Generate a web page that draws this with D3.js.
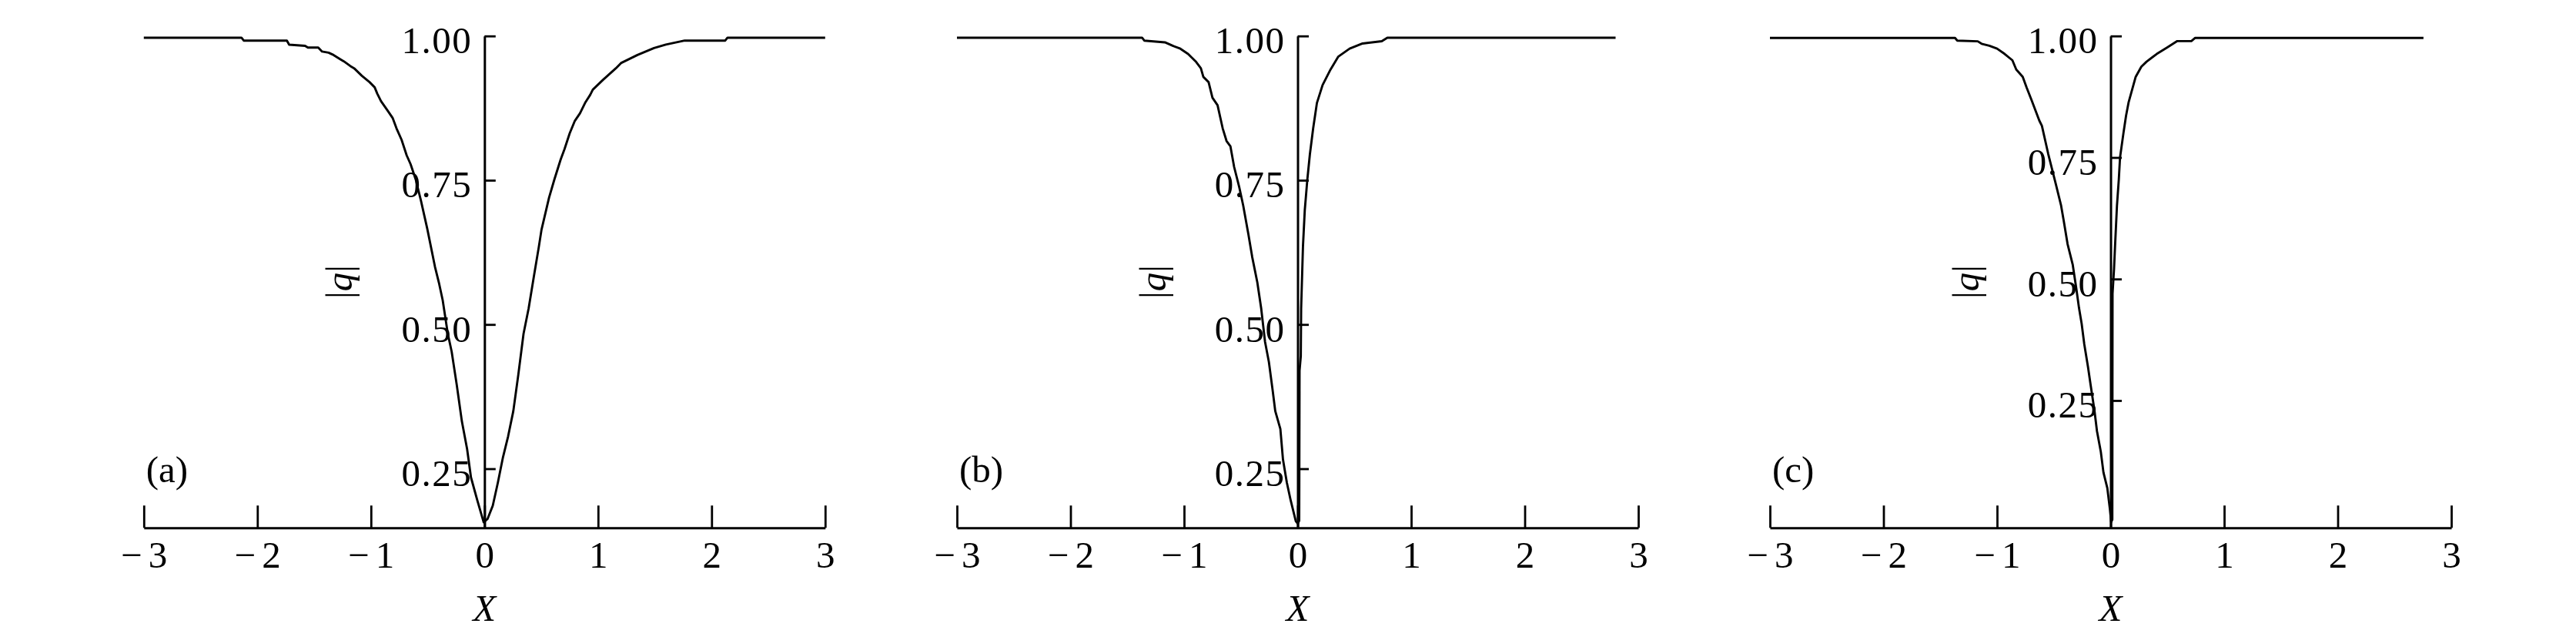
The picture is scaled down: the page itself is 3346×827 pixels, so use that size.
<!DOCTYPE html>
<html><head><meta charset="utf-8">
<script src="https://cdn.jsdelivr.net/npm/d3@7"></script>
<style>html,body{margin:0;padding:0;background:#fff;} svg{display:block;background:#fff;}</style>
</head><body><svg id="chart" width="3346" height="827"></svg>
<script>
// ---- data ----
const xTicks = [-3, -2, -1, 0, 1, 2, 3];
const yTicks = [0.25, 0.5, 0.75, 1.0];
const panelLabels = ["(a)", "(b)", "(c)"];
const yMins = [0.1475, 0.1475, -0.012];
const xLabel = "X";

const xA = [-3.0,-2.14,-2.12,-1.74,-1.72,-1.58,-1.555,-1.464,-1.43,-1.373,-1.329,-1.272,-1.238,-1.182,-1.148,-1.08,-1.012,-0.967,-0.944,-0.911,-0.854,-0.809,-0.775,-0.73,-0.685,-0.651,-0.605,-0.56,-0.504,-0.436,-0.402,-0.368,-0.323,-0.289,-0.244,-0.199,-0.153,-0.119,-0.063,-0.007,0.027,0.073,0.118,0.163,0.208,0.254,0.298,0.344,0.389,0.434,0.479,0.502,0.569,0.615,0.671,0.705,0.75,0.796,0.841,0.886,0.931,0.954,1.044,1.157,1.202,1.347,1.493,1.597,1.763,2.12,2.14,3.0];
const yA = [0.997,0.997,0.992,0.992,0.985,0.983,0.98,0.98,0.973,0.971,0.967,0.96,0.956,0.948,0.944,0.931,0.92,0.911,0.9,0.887,0.871,0.858,0.84,0.82,0.793,0.778,0.751,0.715,0.666,0.6,0.573,0.542,0.484,0.453,0.395,0.332,0.284,0.235,0.195,0.157,0.163,0.186,0.226,0.27,0.306,0.35,0.413,0.484,0.528,0.582,0.635,0.664,0.72,0.751,0.786,0.804,0.831,0.853,0.866,0.884,0.898,0.907,0.924,0.944,0.953,0.967,0.979,0.985,0.992,0.992,0.997,0.997];

const xB = [-3.0,-1.37,-1.35,-1.169,-1.10,-1.033,-0.965,-0.898,-0.852,-0.83,-0.784,-0.75,-0.705,-0.66,-0.626,-0.592,-0.559,-0.513,-0.479,-0.434,-0.4,-0.355,-0.321,-0.287,-0.253,-0.22,-0.197,-0.152,-0.129,-0.095,-0.061,-0.016,0.0,0.014,0.017,0.028,0.031,0.047,0.063,0.085,0.108,0.137,0.17,0.22,0.29,0.357,0.458,0.572,0.741,0.79,2.80];
const yB = [0.997,0.997,0.992,0.989,0.983,0.978,0.969,0.956,0.944,0.929,0.92,0.893,0.88,0.84,0.818,0.809,0.773,0.737,0.706,0.657,0.617,0.573,0.528,0.47,0.435,0.386,0.35,0.319,0.266,0.226,0.195,0.159,0.155,0.16,0.42,0.445,0.528,0.635,0.698,0.75,0.795,0.84,0.884,0.915,0.942,0.964,0.978,0.987,0.991,0.997,0.997];

const xC = [-3.0,-1.37,-1.35,-1.17,-1.136,-1.068,-1.0,-0.933,-0.865,-0.831,-0.774,-0.74,-0.696,-0.662,-0.628,-0.605,-0.549,-0.481,-0.436,-0.413,-0.379,-0.334,-0.3,-0.278,-0.255,-0.232,-0.199,-0.176,-0.142,-0.12,-0.086,-0.063,-0.029,-0.007,0.005,0.015,0.017,0.03,0.039,0.056,0.072,0.083,0.113,0.136,0.158,0.221,0.271,0.316,0.406,0.497,0.587,0.711,0.745,2.755];
const yC = [0.996,0.996,0.9905,0.989,0.984,0.98,0.974,0.963,0.95,0.931,0.916,0.894,0.868,0.847,0.826,0.815,0.757,0.694,0.651,0.62,0.572,0.53,0.477,0.44,0.408,0.366,0.319,0.282,0.229,0.187,0.144,0.102,0.07,0.028,0.0,0.005,0.47,0.52,0.567,0.651,0.704,0.75,0.8,0.836,0.863,0.916,0.937,0.947,0.963,0.976,0.9895,0.9895,0.996,0.996];

const seriesX = [xA, xB, xC];
const seriesY = [yA, yB, yC];

// ---- layout ----
const origins = [629.3, 1685.5, 2741.5];
const halfW = 442.5;
const plotTop = 46.7, plotBottom = 685.3;
const FONT = "'Liberation Serif','Times New Roman',serif";
const FS = 49;

const svg = d3.select("#chart");
svg.append("rect").attr("width", 3346).attr("height", 827).attr("fill", "#fff");

panelLabels.forEach((lab, i) => {
  const o = origins[i];
  const x = d3.scaleLinear().domain([-3, 3]).range([o - halfW, o + halfW]);
  const y = d3.scaleLinear().domain([yMins[i], 1]).range([plotBottom, plotTop]);
  const g = svg.append("g");

  // x axis
  const gx = g.append("g").attr("transform", `translate(0,${plotBottom})`)
    .call(d3.axisBottom(x).tickValues(xTicks).tickSize(-29).tickSizeOuter(0)
      .tickFormat(d => d < 0 ? "\u2212" + Math.abs(d) : String(d)));
  gx.select(".domain").attr("stroke", "#000").attr("stroke-width", 3);
  gx.selectAll(".tick line").attr("stroke", "#000").attr("stroke-width", 2.8);
  gx.selectAll(".tick text")
    .attr("y", 52).attr("dy", 0)
    .attr("font-family", FONT).attr("font-size", FS).attr("fill", "#000")
    .each(function(d) {
      if (d < 0) {
        const t = d3.select(this);
        t.text("");
        t.append("tspan").text("\u2212");
        t.append("tspan").attr("dx", 8).text(String(Math.abs(d)));
      }
    });

  // y axis
  const gy = g.append("g").attr("transform", `translate(${x(0)},0)`)
    .call(d3.axisRight(y).tickValues(yTicks).tickSize(14.5).tickSizeOuter(0)
      .tickFormat(d3.format(".2f")));
  gy.select(".domain").attr("stroke", "#000").attr("stroke-width", 3);
  gy.selectAll(".tick line").attr("stroke", "#000").attr("stroke-width", 2.8);
  gy.selectAll(".tick text")
    .attr("x", -16).attr("dy", 0).attr("y", 22)
    .attr("text-anchor", "end")
    .attr("font-family", FONT).attr("font-size", FS).attr("fill", "#000")
    .attr("letter-spacing", 1.5);

  // axis titles
  g.append("text").attr("x", x(0)).attr("y", 806)
    .attr("text-anchor", "middle").attr("font-family", FONT)
    .attr("font-size", FS).attr("font-style", "italic").text(xLabel);

  const yl = g.append("text")
    .attr("transform", `translate(${x(0) - 172},${(plotTop + plotBottom) / 2}) rotate(-90)`)
    .attr("text-anchor", "middle").attr("font-family", FONT).attr("font-size", FS);
  yl.append("tspan").text("|");
  yl.append("tspan").attr("font-style", "italic").text("q");
  yl.append("tspan").text("|");

  // panel label
  g.append("text").attr("x", x(-3) + 3).attr("y", plotBottom - 59)
    .attr("font-family", FONT).attr("font-size", FS).text(lab);

  // curve
  const pts = seriesX[i].map((v, k) => [v, seriesY[i][k]]);
  g.append("path").datum(pts)
    .attr("fill", "none").attr("stroke", "#000").attr("stroke-width", 2.9)
    .attr("stroke-linejoin", "round")
    .attr("d", d3.line().x(d => x(d[0])).y(d => y(d[1])));
});
</script>
</body></html>
